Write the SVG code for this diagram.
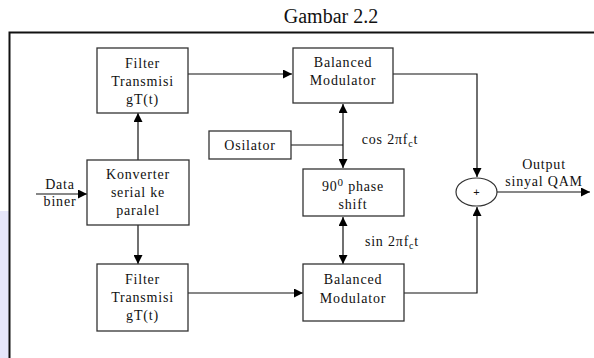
<svg xmlns="http://www.w3.org/2000/svg" width="594" height="358" viewBox="0 0 594 358">
<defs>
<marker id="ah" viewBox="0 0 10 10" refX="10" refY="5" markerWidth="9" markerHeight="9" markerUnits="userSpaceOnUse" orient="auto-start-reverse">
<path d="M0,0 L10,5 L0,10 Z" fill="#000"/>
</marker>
</defs>
<style>
.box{fill:#fff;stroke:#333;stroke-width:1.3}
.t{font-family:"Liberation Serif","Times New Roman",serif;font-size:14px;fill:#111;text-anchor:middle;letter-spacing:0.8px}
.w{fill:none;stroke:#111;stroke-width:1.2}
</style>
<rect x="0" y="0" width="594" height="358" fill="#fff"/>
<rect x="0" y="211" width="9" height="147" fill="#e6e6fa"/>
<text x="331" y="23" style="font-family:'Liberation Serif','Times New Roman',serif;font-size:20px;text-anchor:middle;fill:#111">Gambar 2.2</text>
<path d="M9.5,358 L9.5,32.5 L594,32.5" fill="none" stroke="#111" stroke-width="2"/>

<g id="connectors">
<path class="w" d="M188,74 L292,74" marker-end="url(#ah)"/>
<path class="w" d="M393,74 L477,74 L477,177" marker-end="url(#ah)"/>
<path class="w" d="M291,145 L343,145"/>
<path class="w" d="M343,104 L343,168" marker-start="url(#ah)" marker-end="url(#ah)"/>
<path class="w" d="M343,217 L343,264" marker-start="url(#ah)" marker-end="url(#ah)"/>
<path class="w" d="M404,293 L477,293 L477,207" marker-end="url(#ah)"/>
<path class="w" d="M188,293 L303,293" marker-end="url(#ah)"/>
<path class="w" d="M138,160 L138,113" marker-end="url(#ah)"/>
<path class="w" d="M138,225 L138,264" marker-end="url(#ah)"/>
<path class="w" d="M36,194 L87,194" marker-end="url(#ah)"/>
<path class="w" d="M497,192 L590,192" marker-end="url(#ah)"/>
</g>

<g id="filter-top">
<rect class="box" x="97" y="48" width="91" height="65"/>
<text class="t" x="142.5" y="68">Filter</text>
<text class="t" x="142.5" y="86">Transmisi</text>
<text class="t" x="142.5" y="104">gT(t)</text>
</g>
<g id="bm-top">
<rect class="box" x="293" y="48" width="100" height="55"/>
<text class="t" x="343" y="67">Balanced</text>
<text class="t" x="343" y="85">Modulator</text>
</g>
<g id="osilator">
<rect class="box" x="209" y="131" width="82" height="28"/>
<text class="t" x="250" y="150">Osilator</text>
</g>
<g id="phase-shift">
<rect class="box" x="303" y="169" width="101" height="47"/>
<text class="t" x="353" y="191">90<tspan dy="-5" font-size="11">0</tspan><tspan dy="5"> phase</tspan></text>
<text class="t" x="353" y="209">shift</text>
</g>
<g id="bm-bottom">
<rect class="box" x="303" y="264" width="101" height="57"/>
<text class="t" x="353" y="284">Balanced</text>
<text class="t" x="353" y="303">Modulator</text>
</g>
<g id="filter-bottom">
<rect class="box" x="97" y="264" width="91" height="67"/>
<text class="t" x="142.5" y="284">Filter</text>
<text class="t" x="142.5" y="302">Transmisi</text>
<text class="t" x="142.5" y="320">gT(t)</text>
</g>
<g id="konverter">
<rect class="box" x="87" y="160" width="102" height="65"/>
<text class="t" x="138" y="179">Konverter</text>
<text class="t" x="138" y="197">serial ke</text>
<text class="t" x="138" y="215">paralel</text>
</g>
<g id="adder">
<ellipse cx="476.5" cy="192" rx="20.5" ry="14" fill="#fff" stroke="#333" stroke-width="1.2"/>
<text x="476.5" y="196" style="font-family:'Liberation Sans',Arial,sans-serif;font-size:11px;text-anchor:middle;fill:#111">+</text>
</g>
<g id="labels">
<text class="t" x="60" y="189">Data</text>
<text class="t" x="60" y="206">biner</text>
<text class="t" x="390" y="144">cos 2π<tspan>f</tspan><tspan dy="3" font-size="10">c</tspan><tspan dy="-3">t</tspan></text>
<text class="t" x="392" y="246">sin 2π<tspan>f</tspan><tspan dy="3" font-size="10">c</tspan><tspan dy="-3">t</tspan></text>
<text class="t" x="544" y="169">Output</text>
<text class="t" x="544" y="186">sinyal QAM</text>
</g>
</svg>
